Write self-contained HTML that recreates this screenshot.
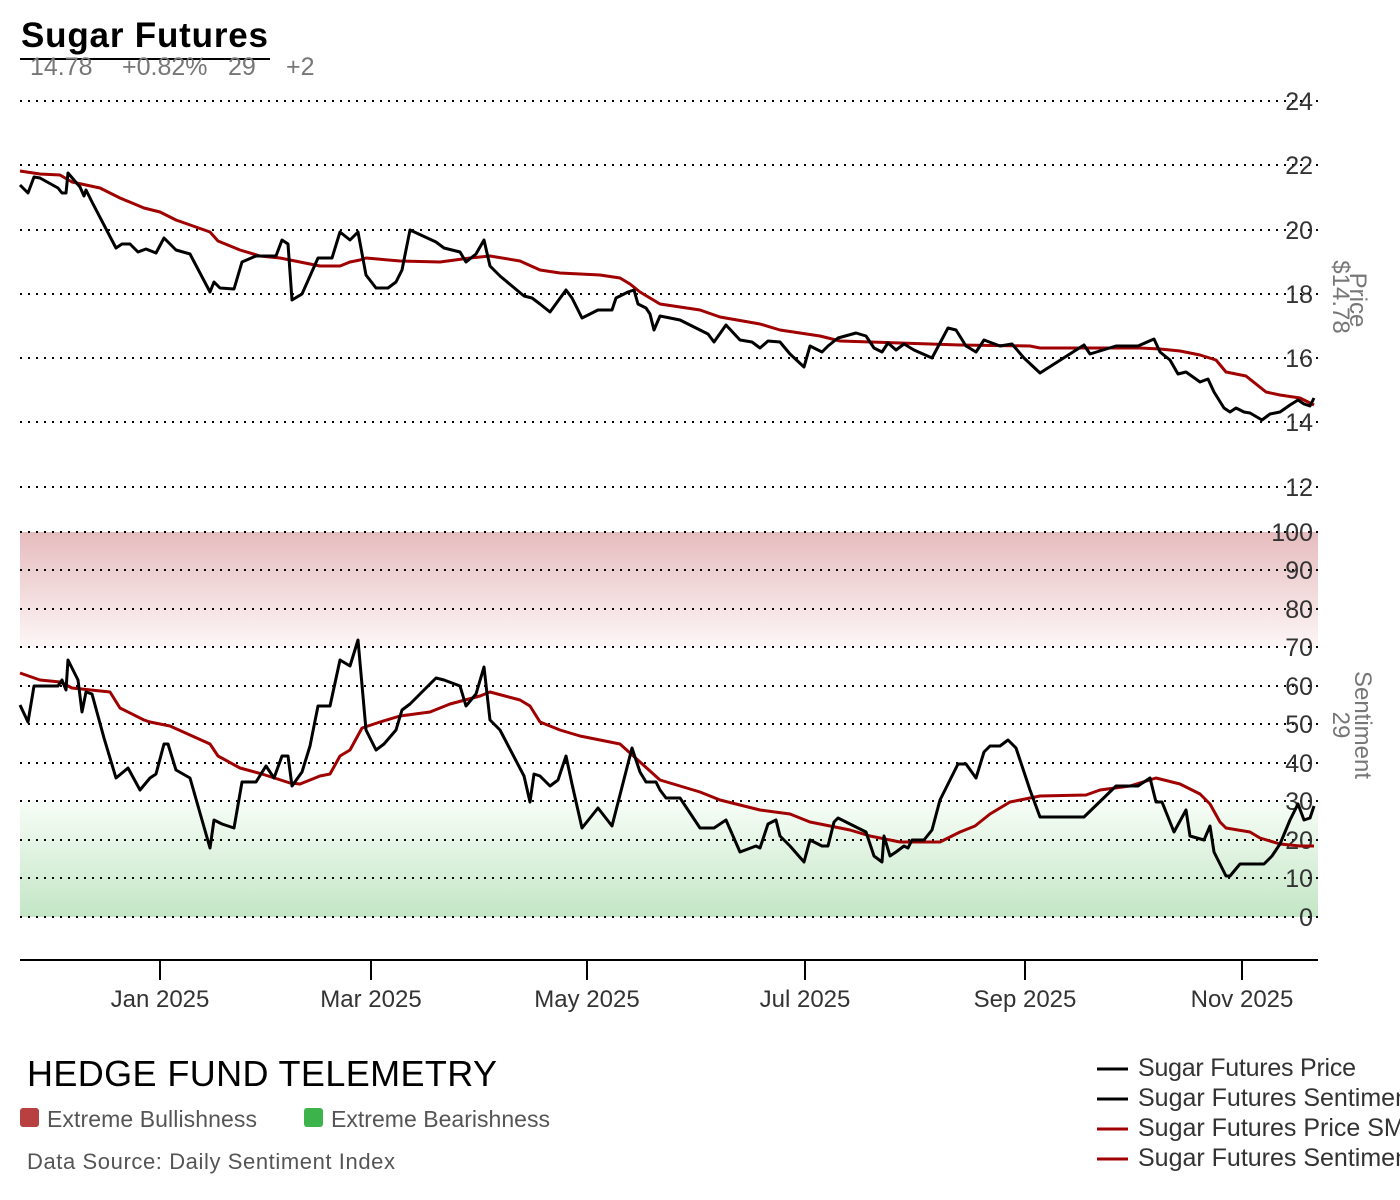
<!DOCTYPE html>
<html><head><meta charset="utf-8"><style>
html,body{margin:0;padding:0;background:#fff;overflow:hidden}
svg{display:block;font-family:"Liberation Sans",sans-serif}
</style></head><body>
<svg width="1400" height="1200" viewBox="0 0 1400 1200">
<defs>
<linearGradient id="rg" x1="0" y1="0" x2="0" y2="1"><stop offset="0" stop-color="#e6bcbe"/><stop offset="1" stop-color="#fdf6f6"/></linearGradient>
<linearGradient id="gg" x1="0" y1="0" x2="0" y2="1"><stop offset="0" stop-color="#f7fdf7"/><stop offset="1" stop-color="#c3e6c5"/></linearGradient>
</defs>
<text x="21" y="47" font-size="35" font-weight="bold" fill="#000" textLength="247">Sugar Futures</text>
<line x1="20" y1="59" x2="270" y2="59" stroke="#000" stroke-width="2"/>
<g font-size="25" fill="#777"><text x="30" y="75">14.78</text><text x="122" y="75">+0.82%</text><text x="228" y="75">29</text><text x="286" y="75">+2</text></g>
<rect x="20" y="532" width="1298" height="115" fill="url(#rg)"/>
<rect x="20" y="802" width="1298" height="115" fill="url(#gg)"/>
<g stroke="#000" stroke-width="2" stroke-dasharray="2,6">
<line x1="20" y1="101" x2="1318" y2="101"/><line x1="20" y1="165" x2="1318" y2="165"/><line x1="20" y1="230" x2="1318" y2="230"/><line x1="20" y1="294" x2="1318" y2="294"/><line x1="20" y1="358" x2="1318" y2="358"/><line x1="20" y1="422" x2="1318" y2="422"/><line x1="20" y1="487" x2="1318" y2="487"/>
<line x1="20" y1="532" x2="1318" y2="532"/><line x1="20" y1="570" x2="1318" y2="570"/><line x1="20" y1="609" x2="1318" y2="609"/><line x1="20" y1="647" x2="1318" y2="647"/><line x1="20" y1="686" x2="1318" y2="686"/><line x1="20" y1="724" x2="1318" y2="724"/><line x1="20" y1="763" x2="1318" y2="763"/><line x1="20" y1="801" x2="1318" y2="801"/><line x1="20" y1="840" x2="1318" y2="840"/><line x1="20" y1="878" x2="1318" y2="878"/><line x1="20" y1="917" x2="1318" y2="917"/>
</g>
<g font-size="25" fill="#333" text-anchor="end">
<text x="1313" y="110">24</text><text x="1313" y="174">22</text><text x="1313" y="239">20</text><text x="1313" y="303">18</text><text x="1313" y="367">16</text><text x="1313" y="431">14</text><text x="1313" y="496">12</text>
<text x="1313" y="541">100</text><text x="1313" y="579">90</text><text x="1313" y="618">80</text><text x="1313" y="656">70</text><text x="1313" y="695">60</text><text x="1313" y="733">50</text><text x="1313" y="772">40</text><text x="1313" y="810">30</text><text x="1313" y="849">20</text><text x="1313" y="887">10</text><text x="1313" y="926">0</text>
</g>
<g font-size="24" fill="#777" text-anchor="middle">
<text transform="translate(1350,300) rotate(90)">Price</text><text transform="translate(1333,297) rotate(90)">$14.78</text>
<text transform="translate(1355,725) rotate(90)">Sentiment</text><text transform="translate(1333,725) rotate(90)">29</text>
</g>
<g fill="none" stroke-width="3" stroke-linejoin="round">
<polyline stroke="#a00000" points="20,171 40,174 60,175 72,182 100,188 120,198 144,208 160,212 176,220 210,232 218,241 240,250 260,256 280,258 320,266 340,266 350,262 360,260 366,258 400,261 440,262 470,258 490,256 520,261 540,270 560,273 600,275 620,278 630,284 640,292 660,304 700,310 720,317 760,324 780,330 820,336 840,341 900,343 960,345 1030,346 1040,348 1140,348 1160,349 1180,351 1200,355 1216,360 1226,372 1246,376 1266,392 1280,395 1300,398 1314,405"/>
<polyline stroke="#000" points="20,185 28,193 34,177 40,178 58,188 62,193 66,193 68,173 74,180 80,187 84,196 86,190 92,202 116,248 122,244 130,244 138,252 146,249 156,253 164,238 176,250 190,254 210,292 214,282 220,288 234,289 242,262 256,256 276,256 282,240 288,244 292,300 302,294 310,276 318,258 332,258 340,232 350,240 358,232 366,275 376,288 388,288 396,282 402,270 410,230 436,242 444,248 460,252 466,262 476,254 484,240 490,266 500,276 524,296 532,298 540,304 550,312 566,290 572,298 582,318 598,310 612,310 616,298 628,292 634,290 638,304 646,308 650,314 654,330 660,316 680,320 700,330 708,334 714,342 726,325 740,340 752,342 760,348 768,341 780,342 790,354 804,367 810,346 822,352 828,346 838,338 856,333 866,336 874,348 882,352 888,343 896,350 904,344 914,350 932,358 948,328 956,330 966,346 976,352 984,340 1000,346 1012,344 1024,358 1040,373 1084,345 1090,354 1116,346 1138,346 1154,339 1160,352 1170,360 1178,374 1186,372 1200,382 1208,379 1214,392 1224,408 1230,412 1236,408 1244,412 1250,413 1262,420 1270,414 1280,412 1290,405 1298,400 1304,404 1310,406 1314,398"/>
<polyline stroke="#a00000" points="20,673 40,680 60,682 72,688 110,692 120,708 144,720 150,722 170,726 210,744 218,756 240,768 262,774 290,783 300,784 320,776 330,774 340,756 350,750 362,728 380,722 400,716 430,712 450,704 480,696 490,692 520,700 530,706 540,722 560,730 580,736 620,744 640,762 660,780 700,792 720,800 760,810 790,814 810,822 850,830 870,836 900,842 940,842 960,832 975,826 990,814 1010,802 1040,796 1086,795 1100,790 1130,786 1156,778 1180,784 1200,794 1210,804 1220,822 1226,828 1250,832 1260,838 1280,844 1300,846 1314,846"/>
<polyline stroke="#000" points="20,705 28,722 34,686 40,686 58,686 62,680 66,690 68,660 78,680 82,712 86,692 92,694 104,738 116,778 128,768 140,790 150,778 156,774 164,744 168,744 176,770 190,778 210,848 214,820 222,824 234,828 242,782 256,782 266,766 274,778 282,756 288,756 292,786 302,772 310,746 318,706 330,706 340,660 350,666 358,640 366,730 376,750 384,744 396,730 402,710 410,704 436,678 444,680 460,686 466,706 476,694 484,667 490,720 500,730 524,776 530,802 534,774 540,776 550,786 558,780 566,756 572,784 582,828 598,808 612,826 632,748 640,772 646,782 656,782 660,790 666,798 680,798 700,828 714,828 726,820 740,852 756,846 760,848 768,824 776,820 780,836 790,846 804,862 810,840 822,846 828,846 834,822 838,818 866,832 874,856 882,862 884,836 890,856 896,852 904,846 908,848 912,840 924,840 932,830 940,800 958,764 966,764 976,778 984,752 990,746 1000,746 1008,740 1016,748 1030,790 1040,817 1084,817 1116,786 1138,786 1150,778 1156,802 1162,802 1174,832 1186,810 1190,836 1204,840 1210,826 1214,852 1226,876 1230,876 1240,864 1264,864 1272,856 1280,844 1290,820 1298,804 1304,820 1310,818 1314,806"/>
</g>
<line x1="20" y1="960" x2="1318" y2="960" stroke="#000" stroke-width="2"/>
<g stroke="#000" stroke-width="2"><line x1="160" y1="960" x2="160" y2="980"/><line x1="371" y1="960" x2="371" y2="980"/><line x1="587" y1="960" x2="587" y2="980"/><line x1="805" y1="960" x2="805" y2="980"/><line x1="1025" y1="960" x2="1025" y2="980"/><line x1="1242" y1="960" x2="1242" y2="980"/></g>
<g font-size="24" fill="#333" text-anchor="middle"><text x="160" y="1007">Jan 2025</text><text x="371" y="1007">Mar 2025</text><text x="587" y="1007">May 2025</text><text x="805" y="1007">Jul 2025</text><text x="1025" y="1007">Sep 2025</text><text x="1242" y="1007">Nov 2025</text></g>
<text x="27" y="1086" font-size="36" fill="#000" textLength="470">HEDGE FUND TELEMETRY</text>
<rect x="20" y="1108" width="19" height="19" rx="3" fill="#b94040"/><text x="47" y="1127" font-size="23" fill="#555" textLength="210">Extreme Bullishness</text>
<rect x="304" y="1108" width="19" height="19" rx="3" fill="#3cb44b"/><text x="331" y="1127" font-size="23" fill="#555" textLength="219">Extreme Bearishness</text>
<text x="27" y="1169" font-size="22" fill="#555" textLength="368">Data Source: Daily Sentiment Index</text>
<g stroke-width="3"><line x1="1097" y1="1069" x2="1128" y2="1069" stroke="#000"/><line x1="1097" y1="1099" x2="1128" y2="1099" stroke="#000"/><line x1="1097" y1="1129" x2="1128" y2="1129" stroke="#a00000"/><line x1="1097" y1="1159" x2="1128" y2="1159" stroke="#a00000"/></g>
<g font-size="25" fill="#333"><text x="1138" y="1076" textLength="218">Sugar Futures Price</text><text x="1138" y="1106">Sugar Futures Sentiment</text><text x="1138" y="1136">Sugar Futures Price SMA</text><text x="1138" y="1166">Sugar Futures Sentiment SMA</text></g>
</svg>
</body></html>
